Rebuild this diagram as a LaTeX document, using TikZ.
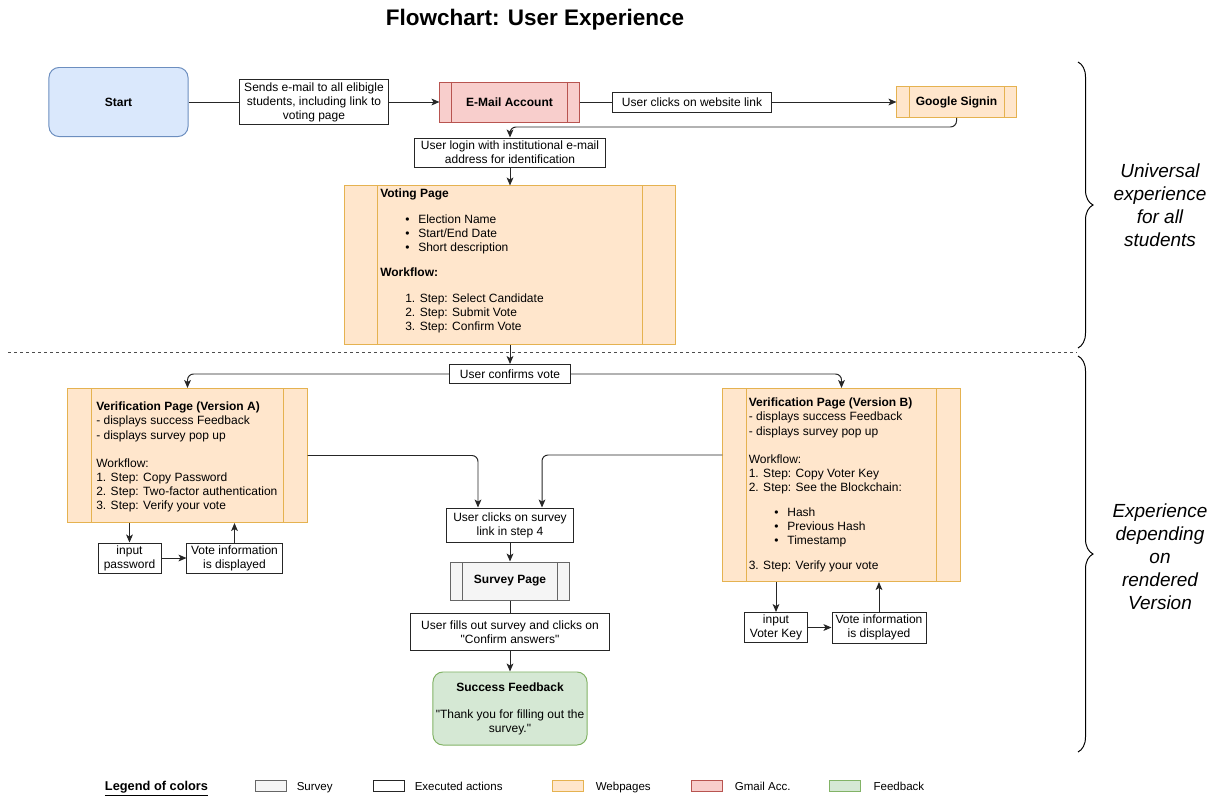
\documentclass[tikz,border=0pt]{standalone}
\usepackage{fontspec}
\setmainfont{Liberation Sans}
\usetikzlibrary{arrows.meta,positioning,decorations.pathreplacing}

\definecolor{startfill}{HTML}{DAE8FC}
\definecolor{startline}{HTML}{6C8EBF}
\definecolor{mailfill}{HTML}{F8CECC}
\definecolor{mailline}{HTML}{B85450}
\definecolor{pagefill}{HTML}{FFE6CC}
\definecolor{pageline}{HTML}{E5B250}
\definecolor{surveyfill}{HTML}{F5F5F5}
\definecolor{surveyline}{HTML}{666666}
\definecolor{feedfill}{HTML}{D5E8D4}
\definecolor{feedline}{HTML}{82B366}

\newcommand{\dfont}{\fontsize{8.54pt}{9.96pt}\selectfont}

\tikzset{
  base/.style={font=\dfont, line width=0.7pt, inner sep=1pt},
  action/.style={base, draw=black!85, fill=white, align=center},
  sidebars/.style 2 args={path picture={
      \draw[#2, line width=0.7pt] ([xshift=#1]path picture bounding box.north west) -- ([xshift=#1]path picture bounding box.south west);
      \draw[#2, line width=0.7pt] ([xshift=-#1]path picture bounding box.north east) -- ([xshift=-#1]path picture bounding box.south east);}},
  startbox/.style={base, draw=startline, fill=startfill, rounded corners=0.25cm, font=\dfont\bfseries},
  gmail/.style={base, draw=mailline, fill=mailfill, sidebars={0.3cm}{mailline}, font=\dfont\bfseries},
  webpage/.style={base, draw=pageline, fill=pagefill},
  survey/.style={base, draw=surveyline, fill=surveyfill, sidebars={0.3cm}{surveyline}, font=\dfont\bfseries},
  feedback/.style={base, draw=feedline, fill=feedfill, rounded corners=0.25cm, align=center},
  pagetext/.style={font=\dfont, align=left, inner sep=0pt, anchor=north west},
  flow/.style={line width=0.7pt, draw=black!85, -{Stealth[length=2mm,width=1.7mm,inset=0.5mm]}},
  brace/.style={decorate, decoration={brace, amplitude=0.375cm}, line width=0.7pt},
  sidenote/.style={font=\fontsize{13.5pt}{16.4pt}\selectfont\itshape, align=center},
  swatch/.style={minimum width=0.775cm, minimum height=0.275cm, line width=0.7pt, inner sep=0pt},
  legendtext/.style={font=\fontsize{8.2pt}{10pt}\selectfont, inner sep=0pt, text height=1.6ex, text depth=0.4ex}
}

\begin{document}
\begin{tikzpicture}[x=0.025cm, y=-0.025cm]
\useasboundingbox (0,0) rectangle (1219,796);

\node[font=\fontsize{16pt}{19pt}\selectfont\bfseries] (title) at (535,20) {Flowchart: User Experience};

\node[startbox, minimum width=3.475cm, minimum height=1.725cm] (start) at (118.5,102) {Start};
\node[gmail, minimum width=3.475cm, minimum height=1cm] (email) at (509.5,102) {E-Mail Account};
\node[webpage, sidebars={0.3cm}{pageline}, minimum width=2.975cm, minimum height=0.775cm, font=\dfont\bfseries] (google) at (956.5,102) {Google Signin};

\draw[flow] (start) -- node[action, minimum width=3.725cm, minimum height=1.125cm] (sends) {Sends e-mail to all elibigle\\students, including link to\\voting page} (email);
\draw[flow] (email) -- node[action, pos=0.355, minimum width=3.975cm, minimum height=0.5cm] (clicks) {User clicks on website link} (google);

\node[action, minimum width=4.75cm, minimum height=0.725cm] (login) at (510,152.5) {User login with institutional e-mail\\address for identification};
\draw[flow, rounded corners=0.15cm] (google.south) -- ++(0,9) -| (login.north);

\node[webpage, sidebars={0.825cm}{pageline}, minimum width=8.275cm, minimum height=3.95cm] (voting) at (510,265) {};
\node[pagetext] (votingtxt) at (380,188.5) {\textbf{Voting Page}\\[0.3cm]
  \hspace*{0.625cm}\textbullet\hspace{0.22cm}Election Name\\
  \hspace*{0.625cm}\textbullet\hspace{0.22cm}Start/End Date\\
  \hspace*{0.625cm}\textbullet\hspace{0.22cm}Short description\\[0.275cm]
  \textbf{Workflow:}\\[0.3cm]
  \hspace*{0.625cm}1. Step: Select Candidate\\
  \hspace*{0.625cm}2. Step: Submit Vote\\
  \hspace*{0.625cm}3. Step: Confirm Vote};
\draw[flow] (login) -- (voting);

\draw[black!70, line width=0.7pt, dash pattern=on 0.075cm off 0.075cm] (8,352) -- (1077,352);

\node[action, minimum width=3cm, minimum height=0.475cm] (confirms) at (510,374) {User confirms vote};
\draw[flow] (voting) -- (confirms);

\node[webpage, sidebars={0.6cm}{pageline}, minimum width=5.975cm, minimum height=3.35cm] (verA) at (187.5,455.5) {};
\node[pagetext] (verAtxt) at (96,402) {\textbf{Verification Page (Version A)}\\
  - displays success Feedback\\
  - displays survey pop up\\[0.35cm]
  Workflow:\\
  1. Step: Copy Password\\
  2. Step: Two-factor authentication\\
  3. Step: Verify your vote};

\node[webpage, sidebars={0.6cm}{pageline}, minimum width=5.925cm, minimum height=4.825cm] (verB) at (841.5,485) {};
\node[pagetext] (verBtxt) at (748.5,398) {\textbf{Verification Page (Version B)}\\
  - displays success Feedback\\
  - displays survey pop up\\[0.35cm]
  Workflow:\\
  1. Step: Copy Voter Key\\
  2. Step: See the Blockchain:\\[0.275cm]
  \hspace*{0.64cm}\textbullet\hspace{0.22cm}Hash\\
  \hspace*{0.64cm}\textbullet\hspace{0.22cm}Previous Hash\\
  \hspace*{0.64cm}\textbullet\hspace{0.22cm}Timestamp\\[0.275cm]
  3. Step: Verify your vote};

\draw[flow, rounded corners=0.15cm] (confirms.west) -| (verA.north);
\draw[flow, rounded corners=0.15cm] (confirms.east) -| (verB.north);

\node[action, minimum width=3.15cm, minimum height=0.85cm] (survclick) at (510,525) {User clicks on survey\\link in step 4};
\draw[flow, rounded corners=0.15cm] (verA.east) -| ([xshift=-0.8cm]survclick.north);
\draw[flow, rounded corners=0.15cm] ([yshift=0.75cm]verB.west) -| ([xshift=0.8cm]survclick.north);

\node[survey, minimum width=2.975cm, minimum height=0.95cm] (survey) at (510,581) {Survey Page};
\draw[flow] (survclick) -- (survey);

\node[feedback, minimum width=3.85cm, minimum height=1.825cm] (success) at (510,708.5) {\textbf{Success Feedback}\\[0.325cm]\textquotedbl Thank you for filling out the\\survey.\textquotedbl};
\draw[flow] (survey) -- node[action, pos=0.44, minimum width=4.95cm, minimum height=0.925cm] (fills) {User fills out survey and clicks on\\\textquotedbl Confirm answers\textquotedbl} (success);

\node[action, minimum width=1.575cm, minimum height=0.75cm] (pwA) at (129.5,558) {input\\password};
\node[action, minimum width=2.375cm, minimum height=0.75cm] (infoA) at (234.5,558) {Vote information\\is displayed};
\draw[flow] (pwA.north |- verA.south) -- (pwA);
\draw[flow] (pwA) -- (infoA);
\draw[flow] (infoA) -- (infoA.north |- verA.south);

\node[action, minimum width=1.575cm, minimum height=0.75cm] (keyB) at (776,627.5) {input\\Voter Key};
\node[action, minimum width=2.35cm, minimum height=0.775cm] (infoB) at (879,627.5) {Vote information\\is displayed};
\draw[flow] (keyB.north |- verB.south) -- (keyB);
\draw[flow] (keyB) -- (infoB);
\draw[flow] (infoB) -- (infoB.north |- verB.south);

\draw[brace] (1078,62) -- (1078,348);
\draw[brace] (1078,356) -- (1078,752);
\node[sidenote] (universal) at (1160,205) {Universal\\experience\\for all\\students};
\node[sidenote] (depending) at (1160,557) {Experience\\depending\\on\\rendered\\Version};

\node[font=\fontsize{9.1pt}{11pt}\selectfont\bfseries, inner sep=0pt, text height=1.6ex, text depth=0.6ex] (legend) at (156.5,787) {\underline{Legend of colors}};
\node[swatch, draw=surveyline, fill=surveyfill] (swsurvey) at (270.5,786) {};
\node[legendtext, right=0.25cm of swsurvey] (lgsurvey) {Survey};
\node[swatch, draw=black!85, fill=white] (swaction) at (388.5,786) {};
\node[legendtext, right=0.25cm of swaction] (lgaction) {Executed actions};
\node[swatch, draw=pageline, fill=pagefill] (swpage) at (567.5,786) {};
\node[legendtext, right=0.3cm of swpage] (lgpage) {Webpages};
\node[swatch, draw=mailline, fill=mailfill] (swmail) at (706.5,786) {};
\node[legendtext, right=0.3cm of swmail] (lgmail) {Gmail Acc.};
\node[swatch, draw=feedline, fill=feedfill] (swfeed) at (844.5,786) {};
\node[legendtext, right=0.32cm of swfeed] (lgfeed) {Feedback};
\end{tikzpicture}
\end{document}
